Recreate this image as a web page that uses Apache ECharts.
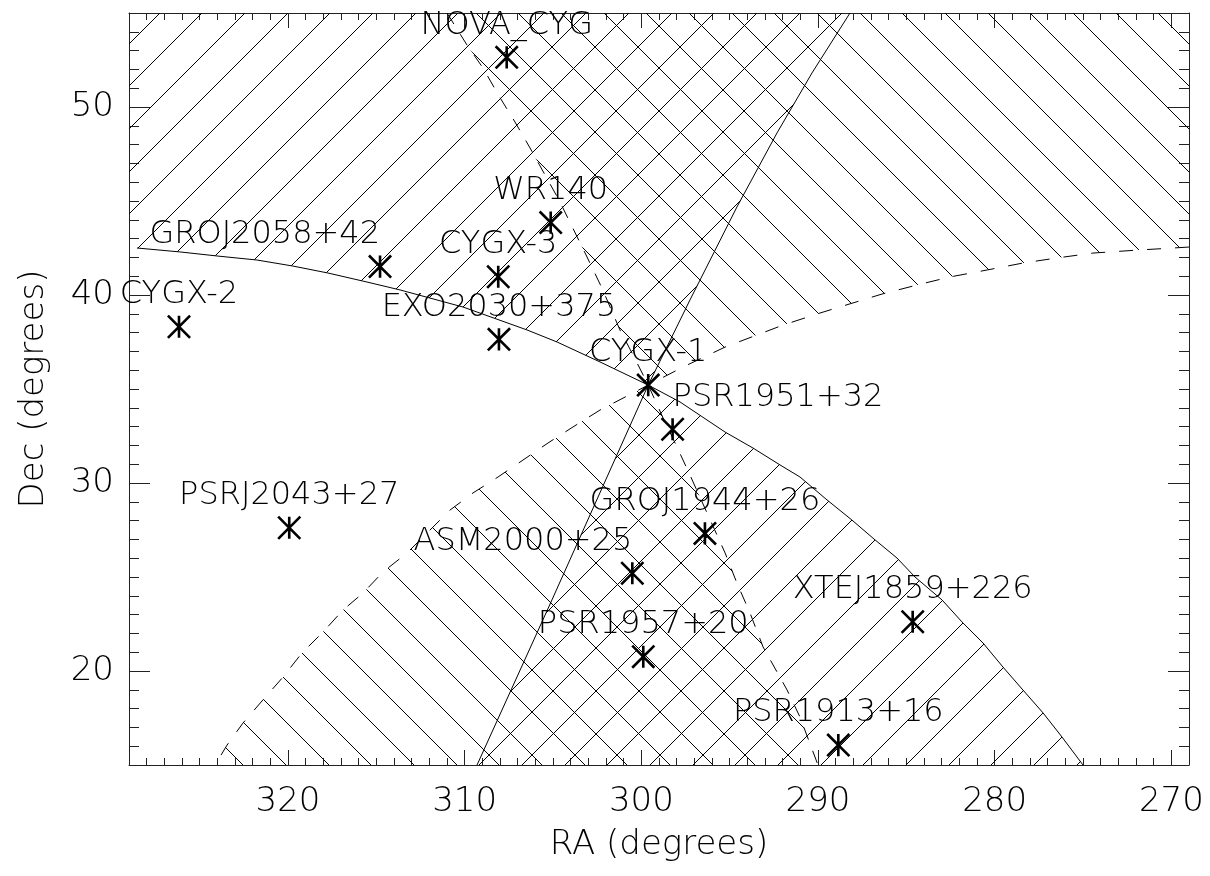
<!DOCTYPE html>
<html>
<head>
<meta charset="utf-8">
<script src="https://cdn.jsdelivr.net/npm/echarts@6/dist/echarts.min.js"></script>
<style>
html,body{margin:0;padding:0;background:#fff;}
#chart{width:1210px;height:876px;}
</style>
</head>
<body>
<div id="chart"></div>
<script>
// ---------------- data ----------------
const sourceNames = ['NOVA_CYG','WR140','CYGX-3','GROJ2058+42','CYGX-2','EXO2030+375','CYGX-1','PSR1951+32',
  'PSRJ2043+27','GROJ1944+26','ASM2000+25','XTEJ1859+226','PSR1957+20','PSR1913+16'];
const sourceRA  = [307.62,305.13,308.10,314.79,326.17,308.06,299.61,298.23,319.93,296.40,300.51,284.64,299.89,288.85];
const sourceDec = [52.64, 43.85, 40.97, 41.51, 38.31, 37.64, 35.21, 32.86, 27.62, 27.32, 25.20, 22.62, 20.76, 16.06];

const raTicks  = [270, 280, 290, 300, 310, 320];
const decTicks = [20, 30, 40, 50];

// common apex of the two hourglass fields (Cyg X-1)
const apex = [299.61, 35.21];

// solid boundary S : left branch (from left end to apex), right branch (apex outward)
const sLeft = [[328.55,42.50],[326.11,42.29],[323.96,42.07],[321.75,41.86],[319.72,41.54],[317.74,41.17],
  [315.53,40.69],[313.66,40.27],[310.09,39.36],[306.47,38.14],[304.77,37.50],[302.34,36.44]];
const sRight = [[297.81,34.31],[295.26,32.71],[293.68,31.86],[292.15,30.96],[291.02,30.32],[289.49,29.10],
  [288.08,28.03],[286.83,27.02],[285.53,26.01],[284.51,25.00],[282.98,23.78],[281.85,22.61],[280.66,21.49],
  [279.53,20.21],[278.40,18.99],[277.26,17.77],[276.19,16.49],[275.00,15.00]];
// thin solid boundary T (apex outward)
const tLower = [[305.06,23.78],[309.30,15.00]];
const tUpper = [[297.25,39.73],[294.59,44.68],[292.32,48.62],[290.34,51.81],[288.19,55.00]];
// dashed boundary D (apex outward)
const dRight = [[297.64,36.17],[295.26,37.23],[291.98,38.40],[289.89,39.04],[286.38,40.05],[284.40,40.53],
  [282.53,40.96],[280.43,41.33],[278.40,41.70],[276.47,41.97],[274.44,42.23],[271.89,42.39],[269.00,42.55]];
const dLower = [[302.34,33.88],[303.87,32.98],[305.28,32.13],[306.70,31.22],[308.11,30.32],[309.53,29.47],
  [310.83,28.56],[313.26,26.28],[314.62,25.27],[315.75,24.15],[316.89,23.24],[318.02,22.07],[319.21,20.96],
  [320.28,19.68],[321.42,18.46],[322.55,17.23],[323.45,16.06],[324.13,15.00]];
// dashed boundary E (apex outward)
const eUpper = [[300.47,36.81],[301.21,38.14],[302.23,40.37],[303.13,42.13],[304.66,45.05],[306.30,47.82],
  [307.15,49.20],[308.06,50.59],[308.96,52.07],[309.87,53.30],[311.00,55.00]];
const eLower = [[298.77,33.46],[297.98,31.91],[297.25,30.43],[295.26,26.28],[294.59,24.68],[293.85,23.09],
  [293.11,21.28],[291.75,18.99],[291.02,17.55],[290.00,15.00]];

// ---------------- layout / style ----------------
const xMin = 269, xMax = 329, yMin = 15, yMax = 55;
const FONT = "'DejaVu Sans', sans-serif";
const FW = 200;
const AXC = '#222';
const labelAnchor = {'GROJ2058+42':'right','ASM2000+25':'right','PSR1951+32':'left'};

// crisp (aliased) 45-degree hatch tiles, three lines per 128px tile
function hatchTile(dir) {
  const L = 128, offs = [0, 43, 85];
  const c = document.createElement('canvas');
  c.width = L; c.height = L;
  const g = c.getContext('2d');
  g.fillStyle = '#000';
  for (let x = 0; x < L; x++) {
    for (const o of offs) {
      const y = dir === '/' ? ((o - x) % L + L) % L : ((x - o) % L + L) % L;
      g.fillRect(x, y, 1, 1);
    }
  }
  return c;
}
const tileSlash = hatchTile('/');
const tileBack = hatchTile('\\');
function pat(tile, ox) { return { image: tile, repeat: 'repeat', x: ox, y: 0 }; }

const rev = a => a.slice().reverse();
const polys = {
  aUpper: () => [[xMax, yMax], ...rev(tUpper), apex, ...rev(sLeft), [xMax, sLeft[0][1]]],
  aLower: () => [apex, ...sRight, ...rev(tLower)],
  bUpper: () => [apex, ...eUpper, [xMin, yMax], ...rev(dRight)],
  bLower: () => [apex, ...dLower, ...rev(eLower)]
};

function polySeries(build, fill) {
  return {
    type: 'custom', coordinateSystem: 'cartesian2d', silent: true, z: 1, clip: true,
    animation: false,
    data: [apex],
    renderItem: function (params, api) {
      const pts = build().map(p => api.coord(p));
      return { type: 'polygon', shape: { points: pts }, style: { fill: fill, stroke: null } };
    }
  };
}
function lineSeries(pts, dash) {
  return {
    type: 'line', data: pts, symbol: 'none', silent: true, z: 3, animation: false, clip: true,
    lineStyle: { color: '#000', width: 1, type: dash || 'solid' }
  };
}

const starPath = 'path://M-1.3,-11 L1.3,-11 L1.3,11 L-1.3,11 Z ' +
  'M-10.08,-11.92 L11.92,10.08 L10.08,11.92 L-11.92,-10.08 Z ' +
  'M-10.08,11.92 L-11.92,10.08 L10.08,-11.92 L11.92,-10.08 Z';

function xAxisDef(pos, major, withLabels, withName) {
  const a = {
    type: 'value', min: xMin, max: xMax, inverse: true, position: pos,
    splitLine: { show: false },
    axisLine: { show: !major, onZero: false, lineStyle: { color: AXC, width: 1 } },
    axisTick: { show: true, inside: true, length: major ? 15 : 7, lineStyle: { color: AXC, width: 1 } },
    axisLabel: { show: false }
  };
  if (major) {
    a.axisTick.customValues = raTicks;
    if (withLabels) a.axisLabel = { show: true, customValues: raTicks, margin: 20, fontSize: 34, fontWeight: FW, fontFamily: FONT, color: '#000' };
  } else {
    a.interval = 1;
  }
  if (withName) {
    a.name = 'RA (degrees)'; a.nameLocation = 'middle'; a.nameGap = 63;
    a.nameTextStyle = { fontSize: 34, fontWeight: FW, fontFamily: FONT, color: '#000' };
  }
  return a;
}
function yAxisDef(pos, major, withLabels, withName) {
  const a = {
    type: 'value', min: yMin, max: yMax, position: pos,
    splitLine: { show: false },
    axisLine: { show: !major, onZero: false, lineStyle: { color: AXC, width: 1 } },
    axisTick: { show: true, inside: true, length: major ? 21 : 10, lineStyle: { color: AXC, width: 1 } },
    axisLabel: { show: false }
  };
  if (major) {
    a.axisTick.customValues = decTicks;
    if (withLabels) a.axisLabel = { show: true, customValues: decTicks, margin: 15, fontSize: 34, fontWeight: FW, fontFamily: FONT, color: '#000' };
  } else {
    a.interval = 1;
  }
  if (withName) {
    a.name = 'Dec (degrees)'; a.nameLocation = 'middle'; a.nameGap = 78;
    a.nameTextStyle = { fontSize: 34, fontWeight: FW, fontFamily: FONT, color: '#000' };
  }
  return a;
}

const chart = echarts.init(document.getElementById('chart'), null, { renderer: 'canvas' });
chart.setOption({
  backgroundColor: '#fff',
  animation: false,
  grid: { left: 129, right: 21, top: 13, bottom: 111, containLabel: false },
  xAxis: [
    xAxisDef('bottom', false, false, true),
    xAxisDef('top', false, false, false),
    xAxisDef('bottom', true, true, false),
    xAxisDef('top', true, false, false)
  ],
  yAxis: [
    yAxisDef('left', false, false, true),
    yAxisDef('right', false, false, false),
    yAxisDef('left', true, true, false),
    yAxisDef('right', true, false, false)
  ],
  series: [
    polySeries(polys.aUpper, pat(tileSlash, 1)),
    polySeries(polys.aLower, pat(tileSlash, 6)),
    polySeries(polys.bUpper, pat(tileBack, 36)),
    polySeries(polys.bLower, pat(tileBack, 33)),
    lineSeries([...sLeft, apex, ...sRight]),
    lineSeries([...rev(tLower), apex, ...tUpper]),
    lineSeries([...rev(dRight), apex, ...dLower], [14, 14]),
    lineSeries([...rev(eUpper), apex, ...eLower], [13, 12]),
    {
      type: 'scatter', z: 5, silent: true, animation: false,
      symbol: starPath, symbolSize: 24,
      itemStyle: { color: '#000', opacity: 1 },
      data: sourceNames.map((n, i) => ({
        name: n, value: [sourceRA[i], sourceDec[i]],
        label: { align: labelAnchor[n] || 'center' }
      })),
      label: {
        show: true, position: 'top', distance: 4,
        formatter: p => p.name,
        fontSize: 32, fontWeight: FW, fontFamily: FONT, color: '#000', opacity: 1
      }
    }
  ]
});
</script>
</body>
</html>
